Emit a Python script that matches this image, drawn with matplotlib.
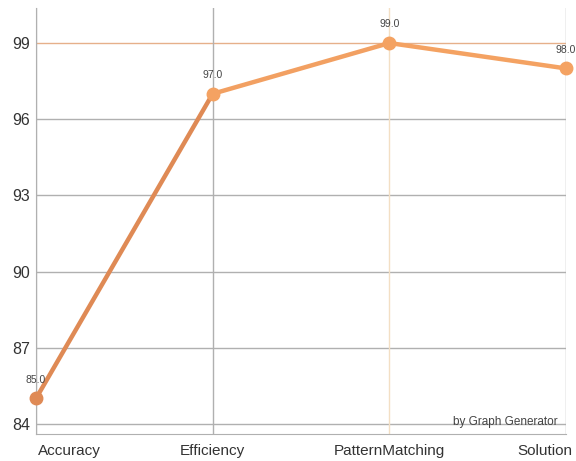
import matplotlib
matplotlib.use("Agg")
import matplotlib.pyplot as plt
import matplotlib.transforms as mtrans

categories = ["Accuracy", "Efficiency", "PatternMatching", "Solution"]
values = [85.0, 97.0, 99.0, 98.0]
yticks = [84, 87, 90, 93, 96, 99]

plt.rcParams['font.family'] = ['Liberation Sans', 'DejaVu Sans']

fig = plt.figure(figsize=(5.76, 4.61), dpi=100)
ax = fig.add_axes([36/576, 1 - 434/461, (566-36)/576, (434-8)/461])

x = list(range(len(categories)))
ax.set_xlim(0, 3)
ax.set_ylim(83.6, 100.38)

grid_c = "#b0b0b0"
for y in yticks:
    if y == max(values):
        ax.axhline(y, color="#e6b08a", lw=1.0, zorder=1)
    else:
        ax.axhline(y, color=grid_c, lw=1.0, zorder=1)
imax = values.index(max(values))
for i in x:
    if i == imax:
        ax.axvline(i, color="#f3dfc4", lw=1.0, zorder=1)
    else:
        ax.axvline(i, color=grid_c, lw=1.0, zorder=1)

seg_colors = ["#df8a55", "#f2a062", "#f4a262"]
for i in range(len(x) - 1):
    ax.plot(x[i:i+2], values[i:i+2], color=seg_colors[i], lw=3.2,
            solid_capstyle="round", zorder=3, clip_on=False)
pt_colors = ["#df8a55", "#f4a262", "#f4a262", "#f4a262"]
for i in x:
    ax.plot(x[i], values[i], "o", ms=9, color=pt_colors[i], zorder=4, clip_on=False)
    ax.annotate(f"{values[i]:.1f}", (x[i], values[i]), xytext=(0, 10),
                textcoords="offset points", ha="center", va="bottom",
                fontsize=7.5, color="#444444", zorder=5, annotation_clip=False)

ax.set_yticks(yticks)
ax.set_yticklabels([str(v) for v in yticks], fontsize=11.5, color="#333333")
ax.set_xticks(x)
labels = ax.set_xticklabels(categories, fontsize=11, color="#333333")
labels[0].set_ha("left")
labels[-1].set_ha("right")
ax.tick_params(axis="both", length=0)
ax.tick_params(axis="x", pad=7)
ax.tick_params(axis="y", pad=4)
xl = ax.get_xticklabels()
xl[0].set_transform(xl[0].get_transform() + mtrans.ScaledTranslation(2/100, 0, fig.dpi_scale_trans))
xl[-1].set_transform(xl[-1].get_transform() + mtrans.ScaledTranslation(6/100, 0, fig.dpi_scale_trans))

for s in ["top", "right"]:
    ax.spines[s].set_visible(False)
ax.spines["left"].set_color(grid_c)
ax.spines["bottom"].set_color(grid_c)

ax.text(0.985, 0.015, "by Graph Generator", transform=ax.transAxes,
        ha="right", va="bottom", fontsize=8.5, color="#444444")

fig.savefig("out.png", dpi=100)
